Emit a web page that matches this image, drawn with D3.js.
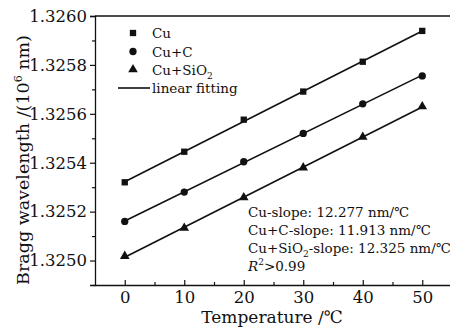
<!DOCTYPE html>
<html lang="en">
<head>
  <meta charset="UTF-8" />
  <title>Bragg wavelength vs temperature</title>
  <script src="https://d3js.org/d3.v7.min.js"></script>
  <style>
    body { margin: 0; background: #fff; }
    svg { display: block; font-family: "DejaVu Serif", serif; fill: #111; }
    .tick text { font-family: "DejaVu Serif", serif; font-size: 16.5px; fill: #111; }
  </style>
</head>
<body>
  <svg width="450" height="327"></svg>
  <script>
    const temps = [0, 10, 20, 30, 40, 50];
    const cuVals = [1.32532, 1.325445, 1.325576, 1.325691, 1.325813, 1.325939];
    const cuCVals = [1.32516, 1.32528, 1.325404, 1.32552, 1.325641, 1.325755];
    const cuSiVals = [1.325018, 1.325133, 1.325258, 1.32538, 1.325505, 1.32563];
    const xTicks = [0, 10, 20, 30, 40, 50];
    const xMinor = [5, 15, 25, 35, 45, 55];
    const yTicks = [1.3250, 1.3252, 1.3254, 1.3256, 1.3258, 1.3260];
    const yMinor = [1.3249, 1.3251, 1.3253, 1.3255, 1.3257, 1.3259];
    const notes = ["Cu-slope: 12.277 nm/℃", "Cu+C-slope: 11.913 nm/℃", "Cu+SiO2-slope: 12.325 nm/℃", "R2>0.99"];

    const series = [
      { name: "Cu", values: cuVals, shape: d3.symbolSquare, size: 40 },
      { name: "Cu+C", values: cuCVals, shape: d3.symbolCircle, size: 42 },
      { name: "Cu+SiO2", values: cuSiVals, shape: d3.symbolTriangle, size: 40 }
    ];

    const svg = d3.select("svg");
    const x = d3.scaleLinear().domain([-5, 55]).range([95, 452]);
    const y = d3.scaleLinear().domain([1.3249, 1.3260]).range([285, 16]);

    // frame: top line
    svg.append("line")
      .attr("x1", x(-5)).attr("x2", x(55))
      .attr("y1", y(1.3260)).attr("y2", y(1.3260))
      .attr("stroke", "#111").attr("stroke-width", 1.3);

    // y axis (ticks outward)
    svg.append("g").attr("transform", `translate(${x(-5)},0)`)
      .call(d3.axisLeft(y).tickValues(yTicks).tickFormat(d3.format(".4f")).tickSize(5).tickPadding(3));
    svg.append("g").attr("transform", `translate(${x(-5)},0)`)
      .call(d3.axisLeft(y).tickValues(yMinor).tickFormat("").tickSize(3))
      .select(".domain").remove();

    // x axis (ticks inward)
    const xAxis = svg.append("g").attr("transform", `translate(0,${y(1.3249)})`)
      .call(d3.axisBottom(x).tickValues(xTicks).tickSizeInner(-5).tickSizeOuter(0));
    xAxis.selectAll(".tick text").attr("y", 6);
    svg.append("g").attr("transform", `translate(0,${y(1.3249)})`)
      .call(d3.axisBottom(x).tickValues(xMinor).tickFormat("").tickSizeInner(-3).tickSizeOuter(0))
      .select(".domain").remove();

    svg.selectAll(".domain").attr("stroke", "#111").attr("stroke-width", 1.3);
    svg.selectAll(".tick line").attr("stroke", "#111").attr("stroke-width", 1.2);

    // linear fits
    series.forEach(s => {
      const mx = d3.mean(temps), my = d3.mean(s.values);
      const b = d3.sum(temps, (t, i) => (t - mx) * (s.values[i] - my)) / d3.sum(temps, t => (t - mx) ** 2);
      const a = my - b * mx;
      svg.append("line")
        .attr("x1", x(0)).attr("y1", y(a))
        .attr("x2", x(50)).attr("y2", y(a + b * 50))
        .attr("stroke", "#111").attr("stroke-width", 1.6);
      svg.append("g").selectAll("path")
        .data(temps)
        .join("path")
        .attr("transform", (t, i) => `translate(${x(t)},${y(s.values[i])})`)
        .attr("d", d3.symbol().type(s.shape).size(s.size))
        .attr("fill", "#111");
    });

    // legend
    const legend = svg.append("g").style("font-size", "13.5px");
    const legY = [33, 51.5, 69.5];
    series.forEach((s, i) => {
      legend.append("path")
        .attr("transform", `translate(133,${legY[i]})`)
        .attr("d", d3.symbol().type(s.shape).size(s.size))
        .attr("fill", "#111");
      const t = legend.append("text").attr("x", 152).attr("y", legY[i] + 5);
      if (s.name === "Cu+SiO2") {
        t.append("tspan").text("Cu+SiO");
        t.append("tspan").attr("dy", 4).style("font-size", "9px").text("2");
      } else {
        t.text(s.name);
      }
    });
    legend.append("line").attr("x1", 118).attr("x2", 150).attr("y1", 88).attr("y2", 88)
      .attr("stroke", "#111").attr("stroke-width", 1.6);
    legend.append("text").attr("x", 152).attr("y", 93).text("linear fitting");

    // slope annotations
    const ann = svg.append("g").style("font-size", "13.5px");
    const annY = [217, 235, 253, 271];
    notes.forEach((n, i) => {
      const t = ann.append("text").attr("x", 248).attr("y", annY[i]);
      if (n.startsWith("Cu+SiO2")) {
        t.append("tspan").text("Cu+SiO");
        t.append("tspan").attr("dy", 4).style("font-size", "9px").text("2");
        t.append("tspan").attr("dy", -4).text(n.slice(7));
      } else if (n.startsWith("R2")) {
        t.append("tspan").style("font-style", "italic").text("R");
        t.append("tspan").attr("dy", -6).style("font-size", "9px").text("2");
        t.append("tspan").attr("dy", 6).text(n.slice(2));
      } else {
        t.text(n);
      }
    });

    // axis titles
    svg.append("text")
      .attr("x", 272).attr("y", 323)
      .attr("text-anchor", "middle")
      .style("font-size", "17px")
      .text("Temperature /℃");

    const yt = svg.append("text")
      .attr("transform", "translate(29,160) rotate(-90)")
      .attr("text-anchor", "middle")
      .style("font-size", "17.5px");
    yt.append("tspan").text("Bragg wavelength /(10");
    yt.append("tspan").attr("dy", -7).style("font-size", "11px").text("6");
    yt.append("tspan").attr("dy", 7).text(" nm)");
  </script>
</body>
</html>
